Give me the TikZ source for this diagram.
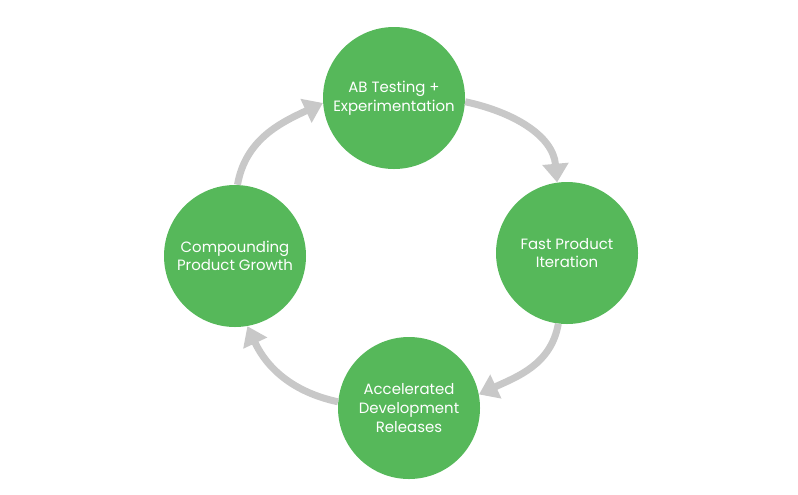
\documentclass[tikz,border=0pt]{standalone}
\usepackage{fontspec}
\setmainfont{Poppins}
\usetikzlibrary{arrows.meta}
\definecolor{cgreen}{RGB}{86,184,90}
\definecolor{cgray}{RGB}{200,200,200}
\tikzset{
  stage/.style={circle, fill=cgreen, minimum size=106.5pt, inner sep=0pt, text=white,
    align=center, font=\fontsize{11.2}{14}\selectfont},
  flow/.style={cgray, line width=5.25pt, -{Triangle[width=19pt,length=14pt]}}
}
\begin{document}
\begin{tikzpicture}[x=0.75pt,y=-0.75pt]
\useasboundingbox (0,0) rectangle (798,494);
\node[stage] (top) at (394,98) {AB Testing +\\Experimentation};
\node[stage] (right) at (567,253) {Fast Product\\Iteration};
\node[stage] (bottom) at (409,408) {Accelerated\\Development\\Releases};
\node[stage] (left) at (235,256) {Compounding\\Product Growth};
\draw[flow] (top.-3) to[out=-12,in=95] (right.98);
\draw[flow] (right.263) to[out=-100,in=25] (bottom.11);
\draw[flow] (bottom.175) to[out=168,in=-65] (left.-80);
\draw[flow] (left.88) to[out=80,in=205] (top.-176);
\end{tikzpicture}
\end{document}
